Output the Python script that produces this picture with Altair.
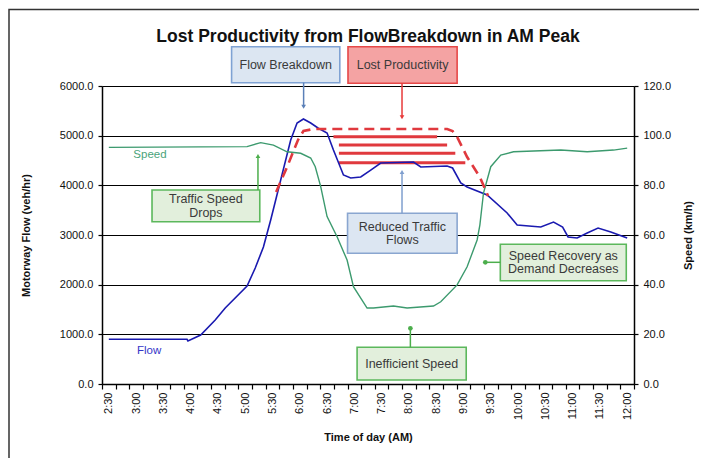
import altair as alt
import pandas as pd

# ---- series data (time in minutes after midnight) ----
flow_time = [150, 236, 237, 251, 267, 278, 302, 311, 320, 328, 339, 350, 357, 364, 372,
             380, 390, 397, 408, 416, 427, 438, 449, 485, 493, 522, 528, 537, 544, 566,
             588, 599, 625, 639, 649, 655, 665, 676, 688, 702, 720]
flow_vals = [900, 900, 866, 986, 1288, 1530, 1973, 2335, 2758, 3302, 4107, 4913, 5255, 5335, 5255,
             5154, 5054, 4711, 4208, 4148, 4168, 4308, 4449, 4469, 4369, 4389, 4349, 4047, 3966, 3805,
             3443, 3201, 3161, 3261, 3161, 2960, 2940, 3040, 3141, 3060, 2940]

speed_time = [150, 302, 317, 331, 346, 361, 372, 377, 383, 390, 401, 412, 419, 434, 441,
              463, 478, 507, 515, 533, 544, 555, 558, 562, 570, 581, 595, 647, 676, 705, 720]
speed_vals = [95.3, 95.6, 97.2, 96.2, 93.5, 92.9, 91.0, 87.5, 79.5, 67.4, 59.3, 49.9, 39.2, 30.6, 30.6,
              31.4, 30.6, 31.4, 33.1, 39.9, 47.2, 58.0, 64.0, 76.9, 87.5, 92.2, 93.5, 94.2, 93.5, 94.2, 95.0]

# lost productivity outline (dashed) and hatch lines, in (time, flow)
outline_time = [334, 346, 358, 364, 375, 522, 528, 533, 544, 558, 567]
outline_flow = [3866, 4369, 4913, 5094, 5134, 5134, 5094, 4973, 4570, 4168, 3785]
hatch_start = [397, 403, 403, 403]
hatch_end = [511, 522, 531, 542]
hatch_flow = [4979, 4812, 4645, 4456]

# annotation boxes (time range, flow range)
box_text = ["Flow Breakdown", "Lost Productivity", "Traffic Speed\nDrops",
            "Reduced Traffic\nFlows", "Speed Recovery as\nDemand Decreases", "Inefficient Speed"]
box_t1 = [285, 413, 197.5, 412.5, 580.5, 423]
box_t2 = [404, 533, 316, 533, 719, 543]
box_lo = [6066, 6054, 3268, 2632, 2080, 81]
box_hi = [6791, 6791, 3906, 3437, 2813, 739]
box_fill = ["#dce6f2", "#f4a3a3", "#e2efdc", "#dce6f2", "#e2efdc", "#e2efdc"]
box_stroke = ["#7fa2d3", "#e64848", "#5cb85c", "#8aa6d0", "#5cb85c", "#5cb85c"]

# arrows
arr_t1 = [364.2, 472.4, 314, 472.4, 580.5, 481.6]
arr_f1 = [6066, 6054, 3906, 3437, 2450, 739]
arr_t2 = [364.2, 472.4, 314, 472.4, 564, 481.6]
arr_f2 = [5583, 5370, 4591, 4268, 2450, 1121]
arr_shape = ["triangle-down", "triangle-down", "triangle-up", "triangle-up", "circle", "circle"]
arr_color = ["#5b80b8", "#e83a3a", "#4cae4c", "#7f9fcf", "#4cae4c", "#4cae4c"]

# series labels
lab_text = ["Speed", "Flow"]
lab_t = [177, 181]
lab_f = [4611, 664]
lab_color = ["#4aa37a", "#3535c8"]

TITLE = "Lost Productivity from FlowBreakdown in AM Peak"
FONT = "Liberation Sans"
XDOM = [142.5, 727.5]
xvals = [142.5 + 7.5 * k for k in range(79)]

flow_df = pd.DataFrame({"t": flow_time, "flow": flow_vals})
speed_df = pd.DataFrame({"t": speed_time, "speed": speed_vals})
outline_df = pd.DataFrame({"t": outline_time, "flow": outline_flow})
hatch_df = pd.DataFrame({"t1": hatch_start, "t2": hatch_end, "flow": hatch_flow})
box_df = pd.DataFrame({"text": box_text, "t1": box_t1, "t2": box_t2, "lo": box_lo, "hi": box_hi,
                       "fill": box_fill, "stroke": box_stroke})
box_df["tc"] = (box_df["t1"] + box_df["t2"]) / 2
box_df["fc"] = (box_df["lo"] + box_df["hi"]) / 2
box_df["lines"] = box_df["text"].str.count("\n") + 1
arr_df = pd.DataFrame({"t1": arr_t1, "f1": arr_f1, "t2": arr_t2, "f2": arr_f2,
                       "shape": arr_shape, "color": arr_color})
lab_df = pd.DataFrame({"text": lab_text, "t": lab_t, "f": lab_f, "color": lab_color})

xs = alt.Scale(domain=XDOM, nice=False, zero=False)
ys = alt.Scale(domain=[0, 6000], nice=False, zero=True)

x_axis = alt.Axis(
    values=xvals,
    labelExpr="(datum.value - 150) % 30 == 0 ? floor(datum.value/60) + ':' + (datum.value % 60 == 0 ? '00' : '30') : ''",
    tickOpacity={"condition": {"test": "(datum.value - 142.5) % 15 == 0", "value": 1}, "value": 0},
    tickSize=5, tickColor="black", tickWidth=1.2,
    labelAngle=270, labelAlign="right", labelBaseline="middle",
    labelFontSize=11, labelFont=FONT, labelColor="#111", labelPadding=3,
    labelOverlap=False, labelFlush=False, grid=False,
    domainColor="black", domainWidth=1.5,
    title="Time of day (AM)", titleFont=FONT, titleFontSize=11, titleFontWeight="bold",
    titleColor="#111", titlePadding=12,
)


def X(field):
    return alt.X(field, type="quantitative", scale=xs, axis=x_axis)


def Y(field):
    return alt.Y(field, type="quantitative", scale=ys, axis=None)


frame = alt.Chart(pd.DataFrame({"k": [0]})).mark_rect(
    fill="transparent", stroke="#333333", strokeWidth=1.5
).encode(x=alt.value(-93), x2=alt.value(700), y=alt.value(-76.5), y2=alt.value(420))

title = alt.Chart(pd.DataFrame({"text": [TITLE]})).mark_text(
    font=FONT, fontSize=17.5, fontWeight="bold", color="#111",
    align="center", baseline="alphabetic"
).encode(x=alt.value(266), y=alt.value(-44), text="text:N")

hatch = alt.Chart(hatch_df).mark_rule(color="#e0393e", strokeWidth=3).encode(
    x=X("t1:Q"), x2="t2", y=Y("flow:Q"))

flow_line = alt.Chart(flow_df).mark_line(color="#1a1ab0", strokeWidth=1.6).encode(
    x=X("t:Q"),
    y=alt.Y("flow:Q", scale=ys, axis=alt.Axis(
        values=[0, 1000, 2000, 3000, 4000, 5000, 6000], format=".1f",
        grid=True, gridColor="black", gridWidth=1.2,
        domainColor="black", domainWidth=1.5, tickColor="black", tickSize=4, tickWidth=1.2,
        labelFont=FONT, labelFontSize=11, labelColor="#111", labelPadding=5,
        title="Motorway Flow (veh/hr)", titleFont=FONT, titleFontSize=11,
        titleFontWeight="bold", titleColor="#111", titlePadding=28)),
)

speed_line = alt.Chart(speed_df).mark_line(color="#3c9a6e", strokeWidth=1.4).encode(
    x=X("t:Q"),
    y=alt.Y("speed:Q", scale=alt.Scale(domain=[0, 120], nice=False, zero=True), axis=alt.Axis(
        orient="right", values=[0, 20, 40, 60, 80, 100, 120], format=".1f", grid=False,
        domainColor="black", domainWidth=1.5, tickColor="black", tickSize=4, tickWidth=1.2,
        labelFont=FONT, labelFontSize=11, labelColor="#111", labelPadding=5,
        title="Speed (km/h)", titleFont=FONT, titleFontSize=11, titleFontWeight="bold",
        titleColor="#111", titleAngle=270, titleBaseline="top", titlePadding=12)),
)

outline = alt.Chart(outline_df).mark_line(
    color="#e0393e", strokeWidth=2.6, strokeDash=[10, 6]
).encode(x=X("t:Q"), y=Y("flow:Q"))

boxes = alt.Chart(box_df).mark_rect(strokeWidth=1.6).encode(
    x=X("t1:Q"), x2="t2", y=Y("lo:Q"), y2="hi",
    fill=alt.Fill("fill:N", scale=None), stroke=alt.Stroke("stroke:N", scale=None))

text_kw = dict(font=FONT, fontSize=12.5, color="#3a3a3a", lineBreak="\n", lineHeight=13.5,
               align="center", baseline="middle")
box_texts_1 = alt.Chart(box_df).transform_filter("datum.lines == 1").mark_text(**text_kw).encode(
    x=X("tc:Q"), y=Y("fc:Q"), text="text:N")
box_texts_2 = alt.Chart(box_df).transform_filter("datum.lines == 2").mark_text(
    dy=-6.75, **text_kw).encode(x=X("tc:Q"), y=Y("fc:Q"), text="text:N")

arrows = alt.Chart(arr_df).mark_rule(strokeWidth=1.5).encode(
    x=X("t1:Q"), x2="t2", y=Y("f1:Q"), y2="f2",
    color=alt.Color("color:N", scale=None))

heads = alt.Chart(arr_df).mark_point(filled=True, size=22, opacity=1).encode(
    x=X("t2:Q"), y=Y("f2:Q"),
    shape=alt.Shape("shape:N", scale=None),
    color=alt.Color("color:N", scale=None))

labels = alt.Chart(lab_df).mark_text(
    font=FONT, fontSize=11.5, align="left", baseline="middle"
).encode(x=X("t:Q"), y=Y("f:Q"), text="text:N", color=alt.Color("color:N", scale=None))

chart = alt.layer(
    frame, title, hatch, flow_line, speed_line, outline, boxes, box_texts_1, box_texts_2,
    arrows, heads, labels
).resolve_scale(y="independent").properties(
    width=532, height=298,
    padding={"left": 94, "top": 78, "right": 65, "bottom": 74},
    autosize=alt.AutoSizeParams(type="none"),
).configure_view(stroke=None).configure(background="white")

chart.save("out.html", embed_options={"renderer": "svg", "actions": False})
